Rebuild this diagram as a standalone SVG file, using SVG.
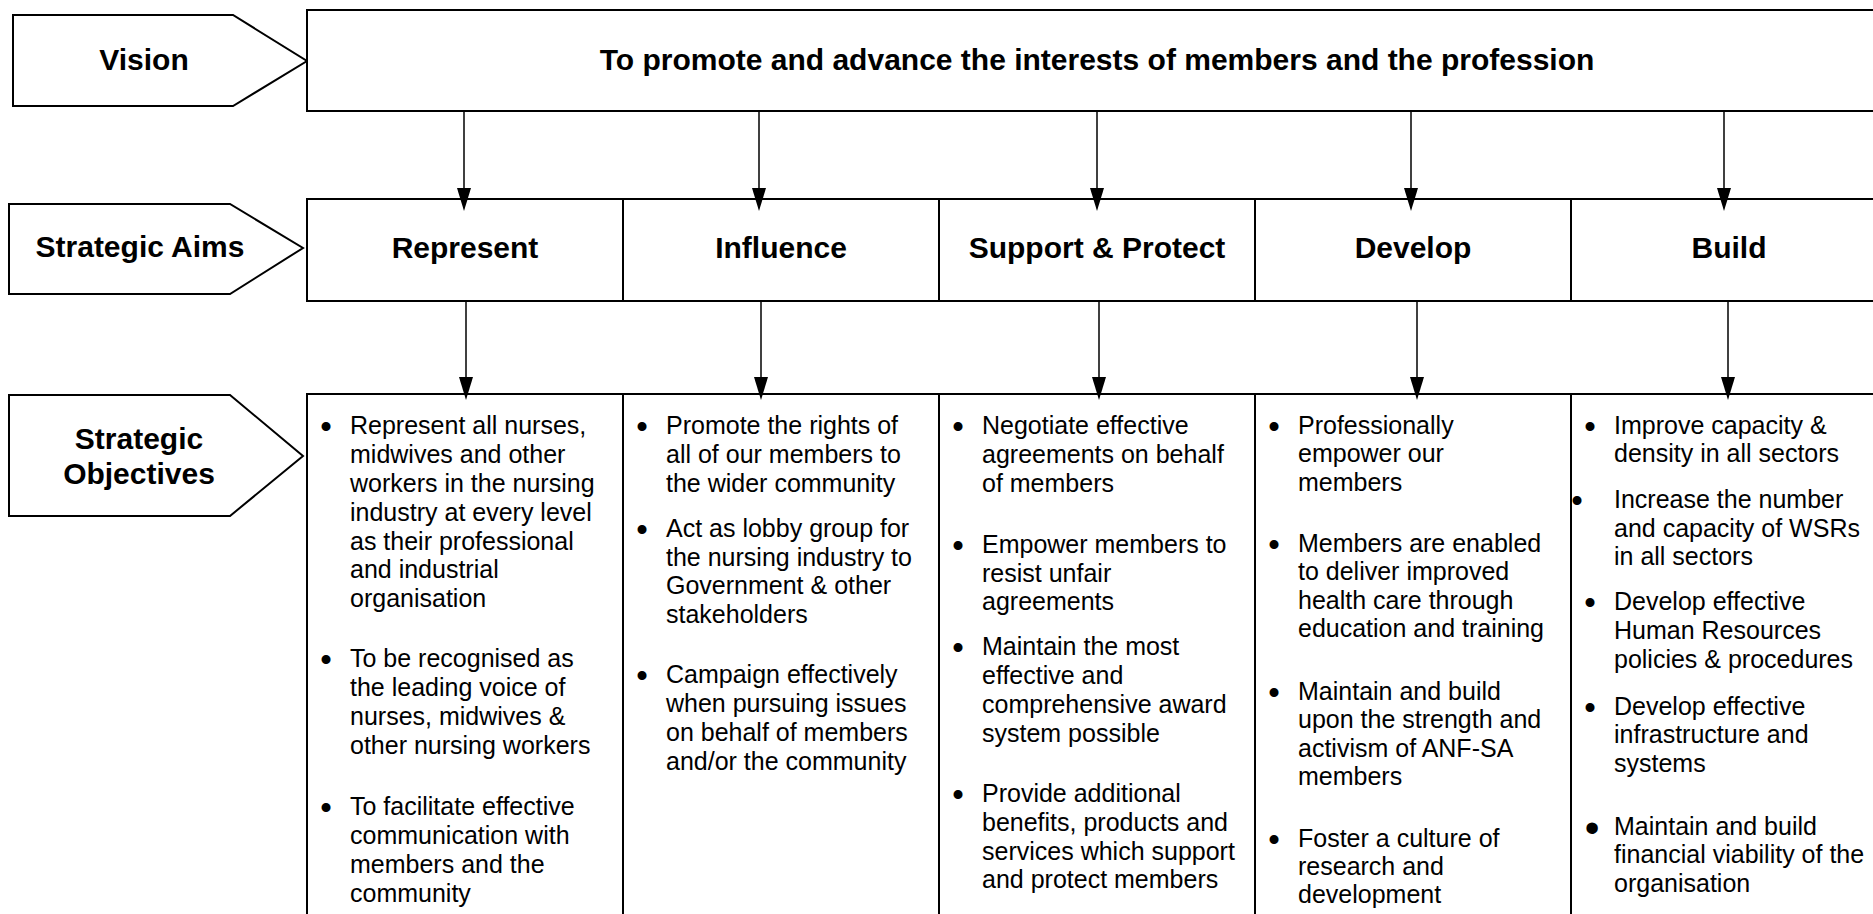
<svg xmlns="http://www.w3.org/2000/svg" width="1873" height="914" viewBox="0 0 1873 914">
<defs>
<style>
.box{fill:#fff;stroke:#000;stroke-width:2}
.lbl{fill:#fff;stroke:#000;stroke-width:2}
.conn line{stroke:#000;stroke-width:1.5}
.h{font-family:"Liberation Sans",Arial,sans-serif;font-weight:bold;font-size:30px;text-anchor:middle;fill:#000}
.t{font-family:"Liberation Sans",Arial,sans-serif;font-size:25px;fill:#000}
.b{font-family:"Liberation Sans",Arial,sans-serif;font-size:33px;text-anchor:middle;fill:#000}
.bb{font-family:"Liberation Sans",Arial,sans-serif;font-size:42px;text-anchor:middle;fill:#000}
</style>
<marker id="ah" markerUnits="userSpaceOnUse" markerWidth="24" markerHeight="16" refX="0" refY="7" orient="auto" viewBox="0 0 24 14">
<path d="M0,0 L23,7 L0,14 Z" fill="#000"/>
</marker>
</defs>
<rect width="1873" height="914" fill="#fff"/>

<g id="label-vision">
<polygon class="lbl" points="13,15 233,15 307,61 233,106 13,106"/>
<text class="h" x="144" y="70">Vision</text>
</g>
<g id="label-aims">
<polygon class="lbl" points="9,204 230,204 303,248 230,294 9,294"/>
<text class="h" x="140" y="257">Strategic Aims</text>
</g>
<g id="label-objectives">
<polygon class="lbl" points="9,395 230,395 303,456 230,516 9,516"/>
<text class="h" x="139" y="449">Strategic</text>
<text class="h" x="139" y="484">Objectives</text>
</g>

<g id="vision">
<rect class="box" x="307" y="10" width="1620" height="101"/>
<text class="h" x="1097" y="70">To promote and advance the interests of members and the profession</text>
</g>

<g id="aim-represent">
<rect class="box" x="307" y="199" width="316" height="102"/>
<text class="h" x="465" y="258">Represent</text>
</g>
<g id="aim-influence">
<rect class="box" x="623" y="199" width="316" height="102"/>
<text class="h" x="781" y="258">Influence</text>
</g>
<g id="aim-support">
<rect class="box" x="939" y="199" width="316" height="102"/>
<text class="h" x="1097" y="258">Support &amp; Protect</text>
</g>
<g id="aim-develop">
<rect class="box" x="1255" y="199" width="316" height="102"/>
<text class="h" x="1413" y="258">Develop</text>
</g>
<g id="aim-build">
<rect class="box" x="1571" y="199" width="316" height="102"/>
<text class="h" x="1729" y="258">Build</text>
</g>

<g id="obj-represent">
<rect class="box" x="307" y="394" width="316" height="560"/>
<text class="b" x="326" y="438">•</text>
<text class="t" x="350" y="434">Represent all nurses,</text>
<text class="t" x="350" y="463">midwives and other</text>
<text class="t" x="350" y="492">workers in the nursing</text>
<text class="t" x="350" y="521">industry at every level</text>
<text class="t" x="350" y="550">as their professional</text>
<text class="t" x="350" y="578">and industrial</text>
<text class="t" x="350" y="607">organisation</text>
<text class="b" x="326" y="671">•</text>
<text class="t" x="350" y="667">To be recognised as</text>
<text class="t" x="350" y="696">the leading voice of</text>
<text class="t" x="350" y="725">nurses, midwives &amp;</text>
<text class="t" x="350" y="754">other nursing workers</text>
<text class="b" x="326" y="819">•</text>
<text class="t" x="350" y="815">To facilitate effective</text>
<text class="t" x="350" y="844">communication with</text>
<text class="t" x="350" y="873">members and the</text>
<text class="t" x="350" y="902">community</text>
</g>

<g id="obj-influence">
<rect class="box" x="623" y="394" width="316" height="560"/>
<text class="b" x="642" y="438">•</text>
<text class="t" x="666" y="434">Promote the rights of</text>
<text class="t" x="666" y="463">all of our members to</text>
<text class="t" x="666" y="492">the wider community</text>
<text class="b" x="642" y="541">•</text>
<text class="t" x="666" y="537">Act as lobby group for</text>
<text class="t" x="666" y="566">the nursing industry to</text>
<text class="t" x="666" y="594">Government &amp; other</text>
<text class="t" x="666" y="623">stakeholders</text>
<text class="b" x="642" y="687">•</text>
<text class="t" x="666" y="683">Campaign effectively</text>
<text class="t" x="666" y="712">when pursuing issues</text>
<text class="t" x="666" y="741">on behalf of members</text>
<text class="t" x="666" y="770">and/or the community</text>
</g>

<g id="obj-support">
<rect class="box" x="939" y="394" width="316" height="560"/>
<text class="b" x="958" y="438">•</text>
<text class="t" x="982" y="434">Negotiate effective</text>
<text class="t" x="982" y="463">agreements on behalf</text>
<text class="t" x="982" y="492">of members</text>
<text class="b" x="958" y="557">•</text>
<text class="t" x="982" y="553">Empower members to</text>
<text class="t" x="982" y="582">resist unfair</text>
<text class="t" x="982" y="610">agreements</text>
<text class="b" x="958" y="659">•</text>
<text class="t" x="982" y="655">Maintain the most</text>
<text class="t" x="982" y="684">effective and</text>
<text class="t" x="982" y="713">comprehensive award</text>
<text class="t" x="982" y="742">system possible</text>
<text class="b" x="958" y="806">•</text>
<text class="t" x="982" y="802">Provide additional</text>
<text class="t" x="982" y="831">benefits, products and</text>
<text class="t" x="982" y="860">services which support</text>
<text class="t" x="982" y="888">and protect members</text>
</g>

<g id="obj-develop">
<rect class="box" x="1255" y="394" width="316" height="560"/>
<text class="b" x="1274" y="438">•</text>
<text class="t" x="1298" y="434">Professionally</text>
<text class="t" x="1298" y="462">empower our</text>
<text class="t" x="1298" y="491">members</text>
<text class="b" x="1274" y="556">•</text>
<text class="t" x="1298" y="552">Members are enabled</text>
<text class="t" x="1298" y="580">to deliver improved</text>
<text class="t" x="1298" y="609">health care through</text>
<text class="t" x="1298" y="637">education and training</text>
<text class="b" x="1274" y="704">•</text>
<text class="t" x="1298" y="700">Maintain and build</text>
<text class="t" x="1298" y="728">upon the strength and</text>
<text class="t" x="1298" y="757">activism of ANF-SA</text>
<text class="t" x="1298" y="785">members</text>
<text class="b" x="1274" y="851">•</text>
<text class="t" x="1298" y="847">Foster a culture of</text>
<text class="t" x="1298" y="875">research and</text>
<text class="t" x="1298" y="903">development</text>
</g>

<g id="obj-build">
<rect class="box" x="1571" y="394" width="316" height="560"/>
<text class="b" x="1590" y="438">•</text>
<text class="t" x="1614" y="434">Improve capacity &amp;</text>
<text class="t" x="1614" y="462">density in all sectors</text>
<text class="b" x="1577" y="512">•</text>
<text class="t" x="1614" y="508">Increase the number</text>
<text class="t" x="1614" y="537">and capacity of WSRs</text>
<text class="t" x="1614" y="565">in all sectors</text>
<text class="b" x="1590" y="614">•</text>
<text class="t" x="1614" y="610">Develop effective</text>
<text class="t" x="1614" y="639">Human Resources</text>
<text class="t" x="1614" y="668">policies &amp; procedures</text>
<text class="b" x="1590" y="719">•</text>
<text class="t" x="1614" y="715">Develop effective</text>
<text class="t" x="1614" y="743">infrastructure and</text>
<text class="t" x="1614" y="772">systems</text>
<text class="bb" x="1592" y="842">•</text>
<text class="t" x="1614" y="835">Maintain and build</text>
<text class="t" x="1614" y="863">financial viability of the</text>
<text class="t" x="1614" y="892">organisation</text>
</g>

<g id="connectors" class="conn">
<line x1="464" y1="112" x2="464" y2="188" marker-end="url(#ah)"/>
<line x1="759" y1="112" x2="759" y2="188" marker-end="url(#ah)"/>
<line x1="1097" y1="112" x2="1097" y2="188" marker-end="url(#ah)"/>
<line x1="1411" y1="112" x2="1411" y2="188" marker-end="url(#ah)"/>
<line x1="1724" y1="112" x2="1724" y2="188" marker-end="url(#ah)"/>
<line x1="466" y1="302" x2="466" y2="377" marker-end="url(#ah)"/>
<line x1="761" y1="302" x2="761" y2="377" marker-end="url(#ah)"/>
<line x1="1099" y1="302" x2="1099" y2="377" marker-end="url(#ah)"/>
<line x1="1417" y1="302" x2="1417" y2="377" marker-end="url(#ah)"/>
<line x1="1728" y1="302" x2="1728" y2="377" marker-end="url(#ah)"/>
</g>
</svg>
